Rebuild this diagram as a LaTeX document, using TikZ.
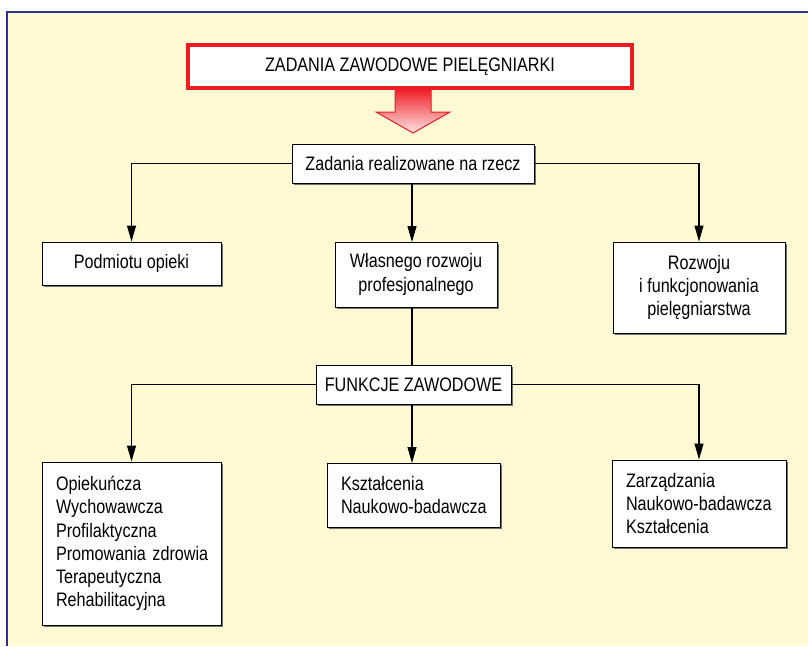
\documentclass[tikz,border=0pt]{standalone}
\usepackage{fontspec}
\setmainfont{Liberation Sans}[FakeStretch=0.83]
\usetikzlibrary{arrows.meta,shadows}
\definecolor{bgbeige}{RGB}{255,250,212}
\definecolor{framblue}{RGB}{46,49,146}
\definecolor{titred}{RGB}{237,28,36}
\definecolor{arrpink}{RGB}{255,228,228}
\tikzset{
  box/.style={draw=black, line width=1pt, fill=white, inner sep=0pt,
    drop shadow={shadow xshift=1.5pt, shadow yshift=-1.5pt, fill=black!55, opacity=1},
    font=\fontsize{19.5}{23.3}\selectfont, align=center},
  lbox/.style={box, align=left},
  conn/.style={draw=black, line width=1.1pt},
  arr/.style={conn, -{Triangle[length=16pt,width=9pt]}},
}
\begin{document}
\begin{tikzpicture}[x=1pt,y=-1pt]
\useasboundingbox (0,0) rectangle (808,646);
\fill[bgbeige] (7,12) rectangle (808,646);
\draw[framblue, line width=2pt] (7,646) -- (7,12) -- (808,12);

% title
\node[draw=titred, line width=4pt, fill=white, minimum width=444pt, minimum height=43pt,
  inner sep=0pt, font=\fontsize{19.5}{23.3}\selectfont,
  drop shadow={shadow xshift=1pt, shadow yshift=-1.5pt, fill=black!40, opacity=1}]
  (title) at (410,66.5) {ZADANIA ZAWODOWE PIELĘGNIARKI};

% big arrow
\coordinate (arrtip) at (413,133);
\shade[top color=titred, bottom color=arrpink, draw=titred, line width=1pt]
  (395,88.5) -- (431,88.5) -- (431,112) -- (450,112) -- (arrtip) -- (376,112) -- (395,112) -- cycle;

% level 1
\node[box, minimum width=242pt, minimum height=39pt] (zad) at (413,163.5) {Zadania realizowane na rzecz};
\node[box, minimum width=179pt, minimum height=43pt] (podm) at (131.5,263.5) {Podmiotu opieki};
\node[box, minimum width=162pt, minimum height=65pt] (wlas) at (416,274.5) {Własnego rozwoju\\profesjonalnego};
\node[box, minimum width=172pt, minimum height=91pt] (rozw) at (699,287.5) {Rozwoju\\i funkcjonowania\\pielęgniarstwa};

\draw[arr] (zad.west) -| (podm.north);
\draw[arr] (zad.east) -| (rozw.north);
\draw[arr] (zad.south -| 412,0) -- (412,242);

% level 2
\node[box, minimum width=195pt, minimum height=39pt] (funk) at (413.5,384.5) {FUNKCJE ZAWODOWE};
\draw[conn] (wlas.south -| 412,0) -- (412,365);

\node[lbox, minimum width=179pt, minimum height=163pt, text width=151pt] (opie) at (131.5,543.5)
  {\mbox{Opiekuńcza}\\\mbox{Wychowawcza}\\\mbox{Profilaktyczna}\\\mbox{Promowania zdrowia}\\\mbox{Terapeutyczna}\\\mbox{Rehabilitacyjna}};
\node[lbox, minimum width=173pt, minimum height=64pt, text width=145pt] (ksz) at (413.5,495)
  {\mbox{Kształcenia}\\\mbox{Naukowo-badawcza}};
\node[lbox, minimum width=174pt, minimum height=87pt, text width=146pt] (zarz) at (699,503.5)
  {\mbox{Zarządzania}\\\mbox{Naukowo-badawcza}\\\mbox{Kształcenia}};

\draw[arr] (funk.west) -| (opie.north);
\draw[arr] (funk.east) -| (zarz.north);
\draw[arr] (funk.south -| 412,0) -- (412,463);
\end{tikzpicture}
\end{document}
